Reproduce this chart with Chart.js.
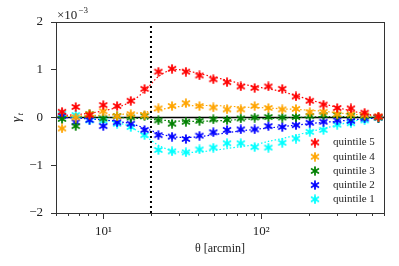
<!DOCTYPE html>
<html lang="en">
<head>
<meta charset="UTF-8">
<title>gamma_t quintiles</title>
<script src="https://cdn.jsdelivr.net/npm/chart.js"></script>
<style>
    body { margin: 0; background: #fff; }
    .wrap { width: 399px; height: 266px; }
</style>
</head>
<body>
<div class="wrap"><canvas id="gammaChart" width="399" height="266"></canvas></div>
<script>
    // measured points (theta in arcmin, gamma_t in units of 1e-3)
    const theta = [5.46, 6.67, 8.16, 9.97, 12.2, 14.9, 18.2, 22.3, 27.2, 33.3, 40.6, 49.7,
                   60.7, 74.2, 90.8, 111, 136, 166, 203, 248, 303, 370, 452, 553];
    const q5 = [0.12, 0.22, 0.05, 0.26, 0.24, 0.35, 0.6, 0.96, 1.02, 0.96, 0.88, 0.8,
                0.74, 0.65, 0.62, 0.65, 0.6, 0.44, 0.35, 0.27, 0.2, 0.19, 0.1, 0.02];
    const q4 = [-0.23, 0.0, 0.07, 0.13, 0.03, 0.07, 0.05, 0.19, 0.24, 0.3, 0.24, 0.21,
                0.17, 0.17, 0.24, 0.2, 0.17, 0.18, 0.11, 0.12, 0.07, 0.07, 0.05, 0.02];
    const q3 = [-0.03, -0.18, 0.07, -0.02, 0.03, 0.0, 0.03, -0.06, -0.13, -0.09, -0.07, -0.04,
                -0.05, -0.02, 0.0, 0.01, 0.0, 0.01, 0.03, 0.05, 0.05, 0.04, 0.03, 0.0];
    const q2 = [0.03, -0.1, -0.05, -0.18, -0.1, -0.13, -0.26, -0.37, -0.4, -0.45, -0.38, -0.31,
                -0.26, -0.25, -0.25, -0.18, -0.2, -0.16, -0.11, -0.09, -0.06, -0.07, -0.02, 0.0];
    const q1 = [0.08, 0.05, -0.06, -0.07, -0.13, -0.2, -0.37, -0.68, -0.71, -0.73, -0.67, -0.63,
                -0.54, -0.54, -0.62, -0.63, -0.53, -0.44, -0.3, -0.26, -0.15, -0.12, -0.06, 0.0];

    // model curves (dotted)
    const thetaModel = [5, 5.46, 6.67, 8.16, 9.97, 12.2, 14.9, 18.2, 22.3, 27.2, 33.3, 40.6, 49.7,
                        60.7, 74.2, 90.8, 111, 136, 166, 203, 248, 303, 370, 452, 553, 600];
    const m5 = [0.03, 0.04, 0.06, 0.09, 0.14, 0.21, 0.33, 0.55, 0.86, 1.0, 0.98, 0.92, 0.85,
                0.78, 0.71, 0.65, 0.6, 0.54, 0.46, 0.37, 0.29, 0.21, 0.14, 0.08, 0.03, 0.01];
    const m4 = [0.02, 0.02, 0.03, 0.04, 0.05, 0.06, 0.08, 0.11, 0.16, 0.21, 0.24, 0.25, 0.25,
                0.24, 0.22, 0.21, 0.2, 0.18, 0.17, 0.15, 0.13, 0.1, 0.07, 0.05, 0.02, 0.01];
    const m3 = [0.02, 0.02, 0.02, 0.01, 0.0, 0.0, -0.01, -0.03, -0.05, -0.07, -0.08, -0.08, -0.07,
                -0.06, -0.04, -0.03, -0.02, -0.01, 0.0, 0.01, 0.02, 0.02, 0.02, 0.01, 0.0, 0.0];
    const m2 = [0.0, 0.0, -0.01, -0.03, -0.05, -0.08, -0.13, -0.22, -0.33, -0.4, -0.42, -0.4, -0.36,
                -0.32, -0.28, -0.25, -0.22, -0.19, -0.16, -0.13, -0.1, -0.08, -0.05, -0.03, -0.01, 0.0];
    const m1 = [0.02, 0.02, 0.0, -0.02, -0.05, -0.1, -0.2, -0.38, -0.58, -0.7, -0.73, -0.72, -0.69,
                -0.65, -0.61, -0.57, -0.5, -0.44, -0.37, -0.3, -0.23, -0.16, -0.09, -0.03, -0.01, 0.0];

    const seriesLabels = ['quintile 5', 'quintile 4', 'quintile 3', 'quintile 2', 'quintile 1'];
    const seriesColors = ['#ff0000', '#ffa500', '#008000', '#0000ff', '#00ffff'];
    const measured = [q5, q4, q3, q2, q1];
    const models = [m5, m4, m3, m2, m1];

    const xTickLabels = { 10: '10\u00b9', 100: '10\u00b2' };
    const minorTicks = [5, 6, 7, 8, 9, 20, 30, 40, 50, 60, 70, 80, 90, 200, 300, 400, 500, 600];
    const cut = 20;

    const serif = "'Liberation Serif', 'DejaVu Serif', serif";

    // six-armed asterisk marker
    function makeStar(color) {
        const c = document.createElement('canvas');
        c.width = 10; c.height = 10;
        const g = c.getContext('2d');
        g.strokeStyle = color;
        g.lineWidth = 1.8;
        g.lineCap = 'round';
        for (let a = 0; a < 3; a++) {
            const ang = Math.PI / 2 + a * Math.PI / 3;
            const dx = Math.cos(ang) * 3.9, dy = Math.sin(ang) * 3.9;
            g.beginPath();
            g.moveTo(5 - dx, 5 - dy);
            g.lineTo(5 + dx, 5 + dy);
            g.stroke();
        }
        return c;
    }
    const stars = seriesColors.map(makeStar);

    const datasets = [];
    measured.forEach((vals, i) => {
        datasets.push({
            label: seriesLabels[i],
            data: theta.map((t, k) => ({ x: t, y: vals[k] })),
            pointStyle: stars[i],
            showLine: false,
            order: 1 + i
        });
    });
    models.forEach((vals, i) => {
        datasets.push({
            label: 'model',
            data: thetaModel.map((t, k) => ({ x: t, y: vals[k] })),
            showLine: true,
            borderColor: seriesColors[i],
            borderWidth: 1.2,
            borderDash: [1.5, 2],
            pointRadius: 0,
            tension: 0.3,
            order: 10 + i
        });
    });
    datasets.push({
        label: 'zero',
        data: [{ x: 5, y: 0 }, { x: 600, y: 0 }],
        showLine: true,
        borderColor: '#000',
        borderWidth: 1.6,
        pointRadius: 0,
        order: 20
    });
    datasets.push({
        label: 'cut',
        data: [{ x: cut, y: -2 }, { x: cut, y: 2 }],
        showLine: true,
        borderColor: '#000',
        borderWidth: 2,
        borderDash: [2, 3],
        pointRadius: 0,
        order: 0
    });

    // frame, minor ticks, legend and extra labels
    const decorations = {
        id: 'decorations',
        afterDraw(chart) {
            const ctx = chart.ctx;
            const a = chart.chartArea;
            const xs = chart.scales.x;
            ctx.save();
            ctx.strokeStyle = '#333';
            ctx.lineWidth = 1;
            ctx.strokeRect(a.left + 0.5, a.top + 0.5, a.right - a.left, a.bottom - a.top);

            minorTicks.forEach(v => {
                const px = Math.round(xs.getPixelForValue(v)) + 0.5;
                ctx.beginPath();
                ctx.moveTo(px, a.bottom);
                ctx.lineTo(px, a.bottom + 3);
                ctx.stroke();
            });

            ctx.fillStyle = '#222';
            ctx.textBaseline = 'alphabetic';
            ctx.font = '13px ' + serif;
            ctx.fillText('\u00d710', 57, 18.5);
            const w = ctx.measureText('\u00d710').width;
            ctx.font = '9px ' + serif;
            ctx.fillText('\u22123', 57 + w + 1, 13);

            ctx.save();
            ctx.translate(20, 117);
            ctx.rotate(-Math.PI / 2);
            ctx.font = 'italic 13px ' + serif;
            ctx.fillText('\u03b3', -5, 0);
            ctx.font = 'italic 9px ' + serif;
            ctx.fillText('t', 1.5, 3);
            ctx.restore();

            ctx.textBaseline = 'middle';
            ctx.font = '11px ' + serif;
            seriesLabels.forEach((lab, i) => {
                const y = 142.5 + i * 14.2;
                ctx.drawImage(stars[i], 315 - 5, y - 5);
                ctx.fillText(lab, 333, y);
            });
            ctx.restore();
        }
    };

    new Chart(document.getElementById('gammaChart'), {
        type: 'scatter',
        data: { datasets },
        options: {
            responsive: false,
            animation: false,
            layout: { padding: { left: 0, right: 15, top: 22, bottom: 0 } },
            plugins: {
                legend: { display: false },
                tooltip: { enabled: false }
            },
            scales: {
                x: {
                    type: 'logarithmic',
                    min: 5,
                    max: 600,
                    afterBuildTicks: s => { s.ticks = [10, 100].map(v => ({ value: v })); },
                    afterFit: s => { s.height = 53; },
                    ticks: {
                        autoSkip: false,
                        maxRotation: 0,
                        padding: 5,
                        color: '#222',
                        font: { family: serif, size: 13 },
                        callback: v => xTickLabels[v] || ''
                    },
                    grid: { drawOnChartArea: false, tickLength: 6, tickColor: '#333' },
                    border: { color: '#333' },
                    title: {
                        display: true,
                        text: '\u03b8 [arcmin]',
                        color: '#222',
                        font: { family: serif, size: 12 },
                        padding: { top: 0, bottom: 10 }
                    }
                },
                y: {
                    min: -2,
                    max: 2,
                    afterFit: s => { s.width = 56; },
                    ticks: {
                        stepSize: 1,
                        padding: 8,
                        color: '#222',
                        font: { family: serif, size: 13 },
                        callback: v => v < 0 ? '\u2212' + Math.abs(v) : String(v)
                    },
                    grid: { drawOnChartArea: false, tickLength: 5, tickColor: '#333' },
                    border: { color: '#333' }
                }
            }
        },
        plugins: [decorations]
    });
</script>
</body>
</html>
